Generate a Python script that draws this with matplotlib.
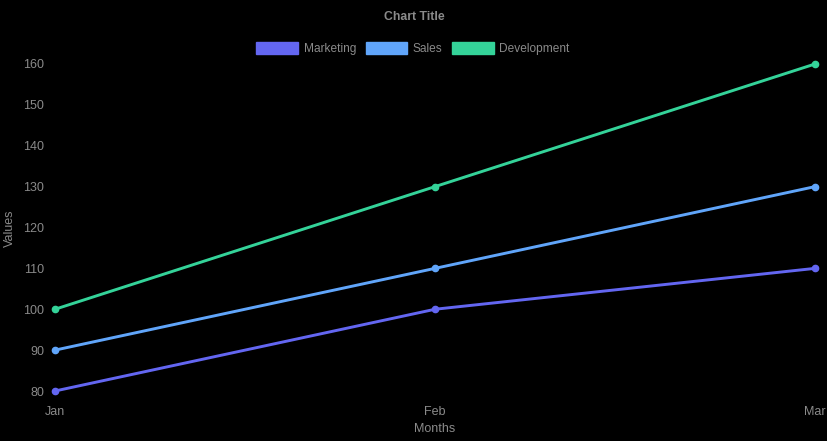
import matplotlib
matplotlib.use("Agg")
import matplotlib.pyplot as plt
from matplotlib.patches import Patch

months = ["Jan", "Feb", "Mar"]
series_names = ["Marketing", "Sales", "Development"]
marketing = [80, 100, 110]
sales = [90, 110, 130]
development = [100, 130, 160]
colors = ["#6366f1", "#60a5fa", "#34d399"]
y_ticks = [80, 90, 100, 110, 120, 130, 140, 150, 160]

plt.rcParams['font.family'] = ['Liberation Sans', 'DejaVu Sans']
text_color = "#8a8a8a"

fig = plt.figure(figsize=(8.28, 4.41), dpi=100, facecolor="black")
W, H = 828, 441
ax = fig.add_axes([55 / W, (H - 391) / H, (815 - 55) / W, (391 - 64) / H])
ax.set_facecolor("black")

x = list(range(len(months)))
for name, vals, c in zip(series_names, [marketing, sales, development], colors):
    ax.plot(x, vals, color=c, lw=2.1, marker="o", markersize=4.5,
            clip_on=False, solid_capstyle="round")

ax.set_xlim(0, len(months) - 1)
ax.set_ylim(80, 160)
ax.set_xticks(x)
ax.set_xticklabels(months)
ax.set_yticks(y_ticks)
for s in ax.spines.values():
    s.set_visible(False)
ax.tick_params(colors=text_color, labelsize=9, length=0)
ax.tick_params(axis="y", pad=8)
ax.tick_params(axis="x", pad=10.5)

fig.text(10 / W, 1 - 228 / H, "Values", rotation=90, color=text_color,
         fontsize=9, ha="center", va="center")
fig.text(435 / W, 1 - 429 / H, "Months", color=text_color,
         fontsize=9, ha="center", va="center")
fig.text(414 / W, 1 - 16.5 / H, "Chart Title", color=text_color,
         fontsize=8.8, fontweight="bold", ha="center", va="center")

handles = [Patch(facecolor=c, edgecolor=c) for c in colors]
leg = fig.legend(handles, series_names, loc="center", bbox_to_anchor=(413 / W, 1 - 48.5 / H),
                 ncol=3, frameon=False, fontsize=8.6, handlelength=3.5, handleheight=1.15,
                 handletextpad=0.45, columnspacing=0.8, labelcolor=text_color)

fig.savefig("out.png", dpi=100, facecolor="black")
